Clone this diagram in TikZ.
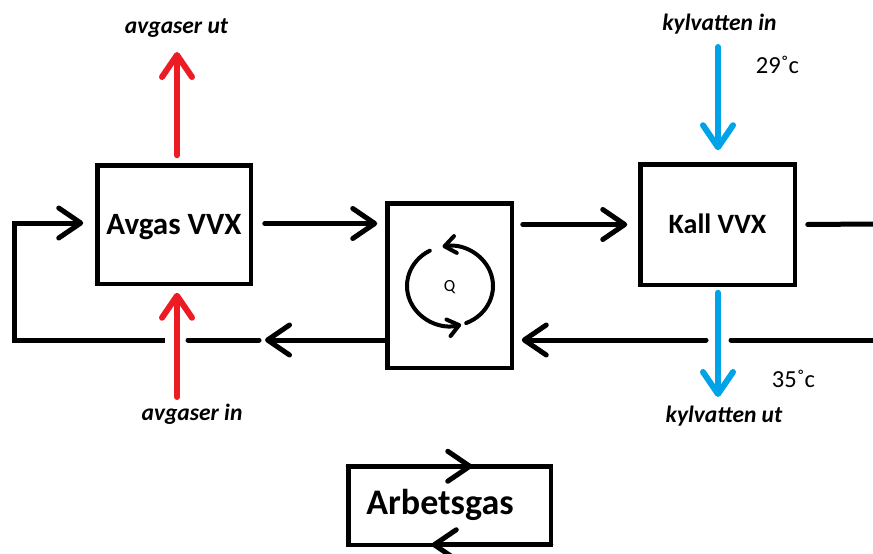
\documentclass[tikz,border=0pt]{standalone}
\usepackage{fontspec}
\setmainfont{Carlito}
\usetikzlibrary{arrows.meta,calc}
\definecolor{pred}{RGB}{237,28,36}
\definecolor{pblue}{RGB}{0,162,232}
\begin{document}
\begin{tikzpicture}[x=1pt,y=-1pt,
  box/.style={draw, line width=4.5pt, outer sep=0pt, inner sep=0pt},
  boxlabel/.style={font=\fontsize{28}{30}\selectfont\bfseries, text height=18pt, text depth=0pt},
  line/.style={line width=5pt, line cap=round},
  flow/.style={line width=5pt, line cap=round, -{Straight Barb[round,length=22pt,width=30pt]}},
  redflow/.style={flow, draw=pred, line width=6pt},
  blueflow/.style={flow, draw=pblue, line width=6pt},
  cyc/.style={line width=4pt, line cap=round, -{Straight Barb[round,length=11pt,width=17pt]}},
  flowlabel/.style={anchor=base, font=\fontsize{23.5}{25}\selectfont\bfseries\itshape},
  temp/.style={anchor=base, font=\fontsize{24.5}{26}\selectfont}
]
\path[use as bounding box] (0,0) rectangle (873,554);

% boxes
\node[box, minimum width=153.5pt, minimum height=118.5pt, boxlabel, font=\fontsize{31}{33}\selectfont\bfseries, text height=20pt] (avg) at (174,224.5) {Avgas VVX};
\node[box, minimum width=124.5pt, minimum height=164.5pt, font=\fontsize{17}{18}\selectfont, text height=11pt, text depth=0pt] (q) at (449.5,285.5) {Q};
\node[box, minimum width=154.5pt, minimum height=120.5pt, boxlabel] (kall) at (717.5,224.5) {Kall VVX};
\node[box, minimum width=202.5pt, minimum height=78.5pt] (arb) at (449.5,505.5) {};
\node[anchor=base, font=\fontsize{36}{38}\selectfont\bfseries] (arbtxt) at (440,514) {Arbetsgas};

% cycle arrows inside Q
\coordinate (qc) at (450,286);
\draw[cyc] (qc) ++(68:43 and 40) arc[start angle=68, end angle=-100, x radius=43, y radius=40];
\draw[cyc] (qc) ++(-118:43 and 40) arc[start angle=-118, end angle=-285, x radius=43, y radius=40];

% top flow line
\draw[flow] ($(avg.east)+(14,-1)$) -- ($(q.west |- avg.east)+(-10,-1)$);
\draw[flow] ($(q.east |- kall.west)+(11,0)$) -- ($(kall.west)+(-13,0)$);
\coordinate (re) at (873,224);
\draw[line] ($(kall.east)+(13,0)$) -- (re);

% bottom return line
\coordinate (br1) at (873,340);
\coordinate (br2) at (731,340);
\coordinate (br3) at (706,340);
\draw[line] (br1) -- (br2);
\draw[flow] (br3) -- ($(q.east |- br3)+(10,0)$);
\coordinate (bl1) at (265,340);
\coordinate (bl2) at (259,340);
\coordinate (bl3) at (188,340);
\coordinate (bl4) at (165,340);
\coordinate (bl5) at (14,340);
\draw[flow] ($(q.west |- bl1)+(-2,0)$) -- (bl1);
\draw[line] (bl2) -- (bl3);
\draw[flow, line cap=butt] (bl4) -- (bl5) |- ($(avg.west)+(-14,-1.5)$);

% exhaust gas
\coordinate (aout) at (177,52);
\coordinate (ain) at (177,397);
\draw[redflow] ($(avg.north)+(3,-10)$) -- (aout);
\draw[redflow] (ain) -- ($(avg.south)+(3,9)$);
\node[flowlabel] (aoutlbl) at (176.5,33) {avgaser ut};
\node[flowlabel] (ainlbl) at (192,420) {avgaser in};

% cooling water
\coordinate (kin) at (718,47);
\coordinate (kut) at (718,397);
\draw[blueflow] (kin) -- ($(kall.north)+(0.5,-14)$);
\draw[blueflow] ($(kall.south)+(0.5,8)$) -- (kut);
\node[flowlabel] (kinlbl) at (719.5,30) {kylvatten in};
\node[flowlabel] (kutlbl) at (724,422) {kylvatten ut};
\node[temp] (t29) at (777.5,73) {29˚c};
\node[temp] (t35) at (793.5,387) {35˚c};

% Arbetsgas arrows
\draw[flow] (arb.north west) -- ($(arb.north west)+(124,0)$);
\draw[flow] (arb.south east) -- ($(arb.south east)+(-119,0)$);
\end{tikzpicture}
\end{document}
